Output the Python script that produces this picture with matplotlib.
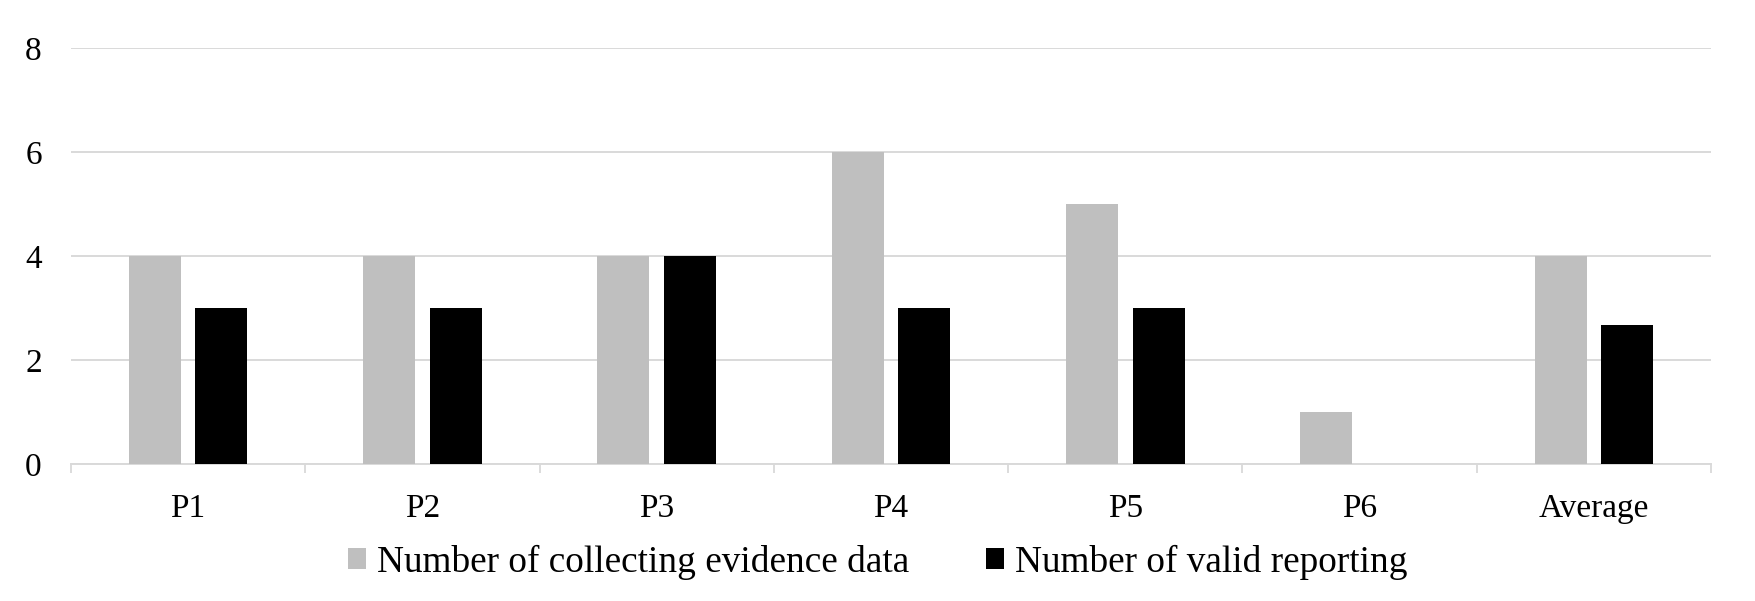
import numpy as np
import matplotlib.pyplot as plt

plt.rcParams['font.family'] = ['Liberation Serif', 'DejaVu Serif']

# data
categories = ['P1', 'P2', 'P3', 'P4', 'P5', 'P6', 'Average']
collecting = [4, 4, 4, 6, 5, 1, 4]
valid = [3, 3, 4, 3, 3, 0, 2.67]
series_names = ['Number of collecting evidence data', 'Number of valid reporting']

grid_col = '#d9d9d9'

fig = plt.figure(figsize=(17.56, 6.01), dpi=100)
ax = fig.add_axes([0.0404, 0.228, 0.9340, 0.692])

x = np.arange(len(categories))
w = 0.222
ax.bar(x - 0.142, collecting, w, color='#bfbfbf', zorder=3, label=series_names[0])
ax.bar(x + 0.142, valid, w, color='#000000', zorder=3, label=series_names[1])

ax.set_xlim(-0.5, len(categories) - 0.5)
ax.set_ylim(0, 8)
ax.set_yticks([0, 2, 4, 6, 8])
ax.yaxis.grid(True, color=grid_col, linewidth=1.4, zorder=0)
ax.set_axisbelow(True)

ax.set_xticks(x)
ax.set_xticklabels(categories)
ax.set_xticks(np.arange(len(categories) + 1) - 0.5, minor=True)
ax.tick_params(axis='x', which='major', length=0, pad=21.5, labelsize=24)
ax.tick_params(axis='x', which='minor', length=6.5, width=1.3, color=grid_col)
ax.tick_params(axis='y', length=0, pad=21, labelsize=24)

for s in ['top', 'right', 'left']:
    ax.spines[s].set_visible(False)
ax.spines['bottom'].set_color(grid_col)
ax.spines['bottom'].set_linewidth(1.4)

fig.legend(loc='center', bbox_to_anchor=(0.5, 0.064), ncol=2, frameon=False,
           fontsize=26.8, handlelength=0.49, handleheight=0.49, handletextpad=0.3,
           columnspacing=2.05)

fig.savefig('out.png', dpi=100)
